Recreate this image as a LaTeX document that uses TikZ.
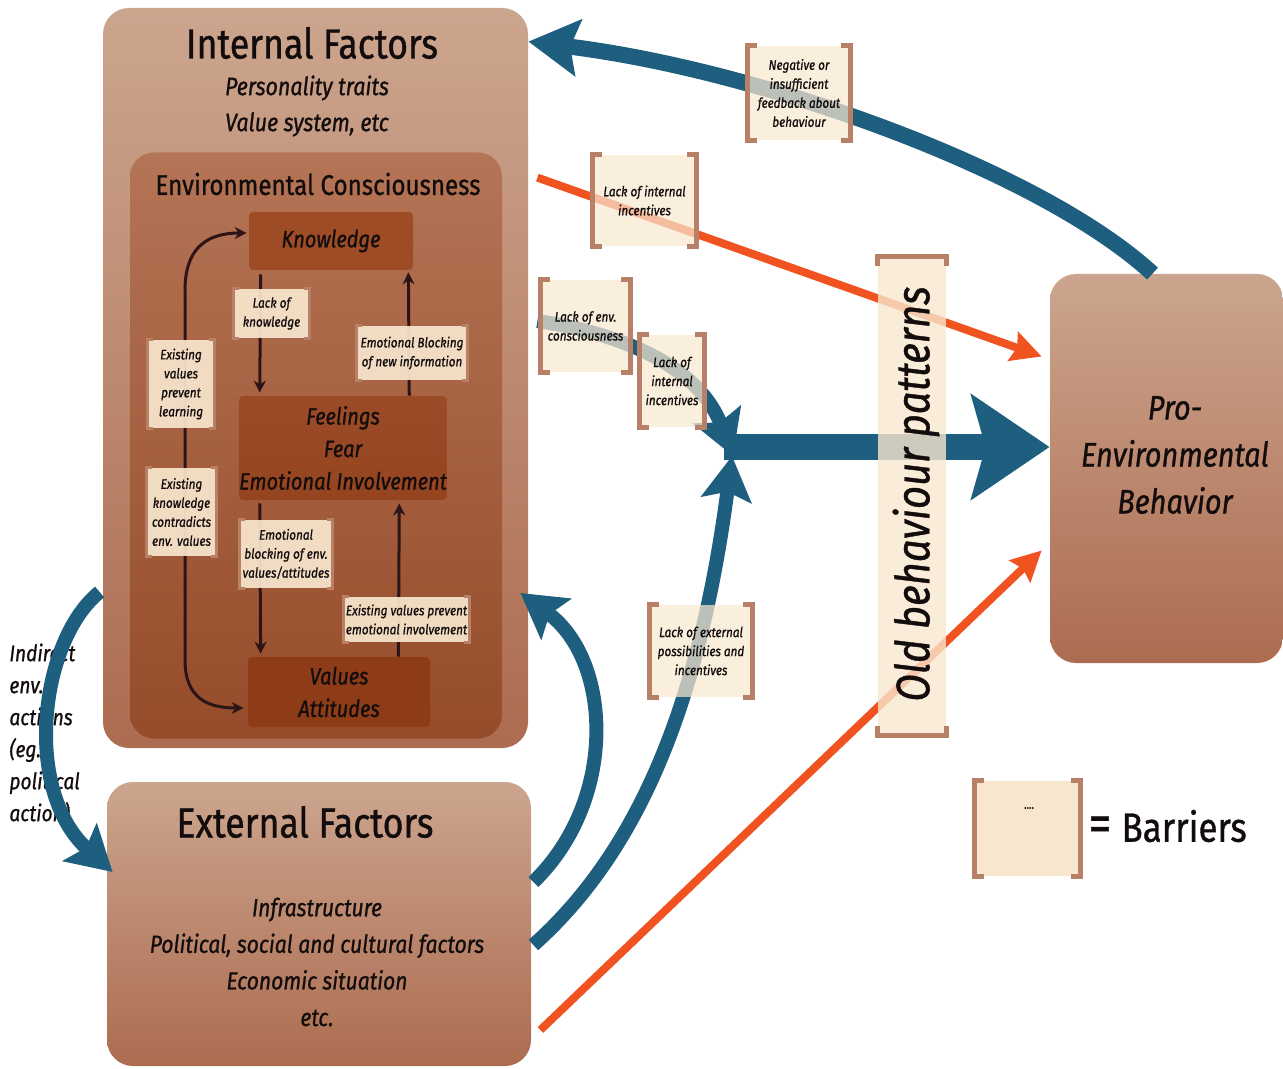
\documentclass[tikz,border=0pt]{standalone}
\usepackage{fontspec}
\setmainfont{Fira Sans}[FakeStretch=0.85, FakeBold=0.9]
\usetikzlibrary{arrows.meta,calc}

\definecolor{boxtop}{RGB}{204,165,142}
\definecolor{boxbot}{RGB}{172,108,80}
\definecolor{ectop}{RGB}{180,116,86}
\definecolor{ecbot}{RGB}{150,76,42}
\definecolor{knowfill}{RGB}{158,76,38}
\definecolor{feelfill}{RGB}{150,68,32}
\definecolor{valsfill}{RGB}{142,60,24}
\definecolor{pblue}{RGB}{30,94,127}
\definecolor{porange}{RGB}{240,82,32}
\definecolor{cream}{RGB}{248,231,206}
\definecolor{brack}{RGB}{184,128,103}
\definecolor{ink}{RGB}{18,12,12}
\definecolor{darrow}{RGB}{45,20,22}

\tikzset{
  bigbox/.style={top color=boxtop, bottom color=boxbot, rounded corners=13pt, inner sep=0pt},
  ecbox/.style={top color=ectop, bottom color=ecbot, rounded corners=12pt, inner sep=0pt},
  innerbox/.style={rounded corners=2pt, inner sep=0pt, align=center, text=ink,
    font=\itshape\fontsize{11.8}{16.25}\selectfont},
  label/.style={text=ink, align=center, inner sep=0pt},
  barrier/.style={fill=cream, fill opacity=0.72, text opacity=1, inner sep=0pt,
    align=center, text=ink, font=\itshape\fontsize{6.9}{9.5}\selectfont},
  innerbarrier/.style={barrier, fill opacity=0.92},
  bluearrow/.style={draw=pblue, line width=7pt, -{Stealth[length=22pt,width=25pt,inset=4pt]}},
  orangearrow/.style={draw=porange, line width=4pt, -{Stealth[length=15pt,width=15pt,inset=2pt]}},
  darkarrow/.style={draw=darrow, line width=1.5pt, -{Stealth[length=6pt,width=6pt]}},
  bracketline/.style={draw=brack, line width=2.5pt},
  smallbracket/.style={draw=brack, line width=1.5pt}
}

% brackets on the left and right edges of a barrier node: name, tick (px), style
\newcommand\barrierbrackets[3]{%
  \draw[#3] ($(#1.north west)+(#2,0)$) -- (#1.north west) -- (#1.south west) -- ++(#2,0);
  \draw[#3] ($(#1.north east)+(-#2,0)$) -- (#1.north east) -- (#1.south east) -- ++(-#2,0);}

\begin{document}
\begin{tikzpicture}[x=0.5pt,y=-0.5pt]
\useasboundingbox (0,0) rectangle (1283,1069);

% ---------- main boxes ----------
\node[bigbox, minimum width=212.5pt, minimum height=370pt] (intf) at (315.5,378) {};
\node[bigbox, minimum width=212pt, minimum height=142pt] (extf) at (319,924) {};
\node[bigbox, minimum width=116.5pt, minimum height=194.5pt] (pro) at (1166.5,468.5) {};

\node[label, font=\fontsize{21}{21}\selectfont] (intft) at (312,43) {Internal Factors};
\node[label, font=\itshape\fontsize{12.6}{18}\selectfont] (intfs) at (307,106) {Personality traits\\Value system, etc};

\node[label, font=\fontsize{21}{21}\selectfont] (extft) at (305,822) {External Factors};
\node[label, font=\itshape\fontsize{12.4}{18.3}\selectfont] (extfs) at (317,962)
  {Infrastructure\\Political, social and cultural factors\\Economic situation\\etc.};

\node[label, font=\itshape\fontsize{17}{23.5}\selectfont] (prot) at (1175,455)
  {Pro-\\Environmental\\Behavior};

% ---------- environmental consciousness ----------
\node[ecbox, minimum width=186pt, minimum height=293pt] (envc) at (316,445.5) {};
\node[label, font=\fontsize{14.2}{14.2}\selectfont] (envct) at (318,184) {Environmental Consciousness};

\node[innerbox, fill=knowfill, minimum width=82pt, minimum height=29pt] (know) at (331,241) {Knowledge};
\node[innerbox, top color=feelfill!85!ectop, bottom color=feelfill, minimum width=103pt, minimum height=52pt] (feel) at (343,448)
  {Feelings\\Fear\\Emotional Involvement};
\node[innerbox, fill=valsfill, minimum width=91pt, minimum height=35pt] (vals) at (339,692) {Values\\Attitudes};

% arrows between the three inner boxes
\draw[darkarrow] ($(know.south west)+(12,4)$) -- ($(feel.north west)+(21,-3)$);
\draw[darkarrow] ($(feel.north east)+(-38,0)$) -- ($(know.south east)+(-5,2)$);
\draw[darkarrow] ($(feel.south west)+(21,3)$) -- ($(vals.north west)+(13,-3)$);
\draw[darkarrow] ($(vals.north east)+(-32,0)$) -- ($(feel.south east)+(-48,3)$);
\draw[darkarrow, {Stealth[length=6pt,width=6pt]}-{Stealth[length=6pt,width=6pt]}]
  ($(vals.west)+(-4,16)$) .. controls (210,708) and (185,700) .. (185,660)
  -- (185,290) .. controls (185,250) and (205,233) .. ($(know.west)+(-2,-8)$);

% barriers inside the consciousness box
\node[innerbarrier, minimum width=37.5pt, minimum height=24.5pt] (lok) at (271.5,313.5) {Lack of\\knowledge};
\node[innerbarrier, minimum width=55pt, minimum height=27pt] (ebn) at (412,353) {Emotional Blocking\\of new information};
\node[innerbarrier, minimum width=33pt, minimum height=44pt] (evl) at (181,384) {Existing\\values\\prevent\\learning};
\node[innerbarrier, minimum width=34.5pt, minimum height=44pt] (ekc) at (181.5,512) {Existing\\knowledge\\contradicts\\env. values};
\node[innerbarrier, minimum width=46pt, minimum height=34pt] (ebv) at (286,554) {Emotional\\blocking of env.\\values/attitudes};
\node[innerbarrier, minimum width=62.5pt, minimum height=22.5pt] (evp) at (406.5,619.5) {Existing values prevent\\emotional involvement};
\foreach \b in {lok,ebn,evl,ekc,ebv,evp} {\barrierbrackets{\b}{5}{smallbracket}}

% ---------- side label ----------
\node[label, align=left, anchor=west, font=\itshape\fontsize{11.3}{16}\selectfont] (indt) at (9,734)
  {Indirect\\env.\\actions\\(eg.\\political\\action)};

% ---------- connectors ----------
\coordinate (merge) at (724,447);

\draw[bluearrow] ($(intf.west)+(-3,214)$) .. controls (40,640) and (22,790) .. ($(extf.west)+(6,-52)$);
\draw[bluearrow] ($(extf.east)+(2,-42)$) .. controls (618,800) and (612,660) .. ($(intf.east)+(-8,215)$);
\draw[bluearrow] ($(extf.east)+(2,21)$) .. controls (640,850) and (700,700) .. ($(merge)+(8,9)$);
\draw[bluearrow, line cap=butt] ($(intf.east)+(9,-57)$) .. controls (630,335) and (700,370) .. ($(merge)+(9,9)$);
\draw[bluearrow, line width=8pt, -{Stealth[length=25pt,width=28pt,inset=4pt]}]
  ($(pro.north)+(-14,0)$) .. controls (1040,170) and (760,70) .. ($(intf.north east)+(0,34)$);

\draw[pblue, line width=13pt, -{Stealth[length=39pt,width=52pt,inset=7pt]}] (merge) -- ($(pro.west)+(0,-21.5)$);

\draw[orangearrow] ($(intf.north east)+(9,170)$) -- ($(pro.west)+(-8,-112)$);
\draw[orangearrow] ($(extf.east)+(9,106)$) -- ($(pro.west)+(-8,82)$);

% ---------- barriers on the connectors ----------
\node[barrier, minimum width=51pt, minimum height=47pt] (fb) at (799,93) {Negative or\\insufficient\\feedback about\\behaviour};
\node[barrier, minimum width=51.5pt, minimum height=45.5pt] (lii) at (644.5,200.5) {Lack of internal\\incentives};
\node[barrier, minimum width=44.5pt, minimum height=46pt] (lec) at (585.5,326) {Lack of env.\\consciousness};
\node[barrier, minimum width=32pt, minimum height=46pt] (liib) at (672,381) {Lack of\\internal\\incentives};
\node[barrier, minimum width=51pt, minimum height=46pt] (lep) at (701,651) {Lack of external\\possibilities and\\incentives};
\foreach \b in {fb,lii,lec,liib,lep} {\barrierbrackets{\b}{9}{bracketline}}

% old behaviour patterns bar, brackets on top and bottom
\node[barrier, fill opacity=0.8, minimum width=34pt, minimum height=239pt] (obp) at (912,496) {};
\draw[bracketline] ($(obp.north west)+(0,9)$) -- (obp.north west) -- (obp.north east) -- ++(0,9);
\draw[bracketline] ($(obp.south west)+(0,-9)$) -- (obp.south west) -- (obp.south east) -- ++(0,-9);
\node[label, rotate=90, font=\itshape\fontsize{23.5}{23.5}\selectfont] (obpt) at (916,494) {Old behaviour patterns};

% ---------- legend ----------
\node[barrier, fill opacity=1, minimum width=52.5pt, minimum height=47.5pt] (legend) at (1027.5,828.5) {};
\barrierbrackets{legend}{9}{bracketline}
\node[label, font=\fontsize{6}{6}\selectfont] (legdots) at (1029,808) {....};
\node[label, anchor=west, font=\fontsize{20.5}{20.5}\selectfont] (legt) at (1088,826)
  {{\fontsize{27}{27}\selectfont =}\hspace{0.25em}Barriers};

\end{tikzpicture}
\end{document}
